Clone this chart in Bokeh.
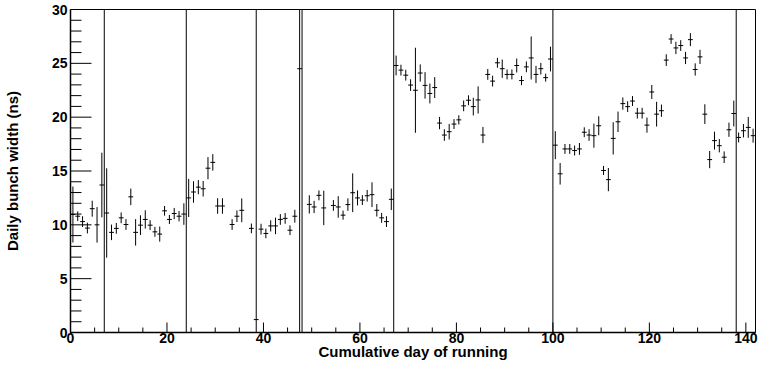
import math
from bokeh.plotting import figure
from bokeh.models import ColumnDataSource, Range1d, SingleIntervalTicker, Span
from bokeh.embed import file_html
from bokeh.resources import INLINE

# day index (bin), daily bunch width (ns), error (ns)
days = [0, 1, 2, 3, 4, 5, 6, 7, 8, 9, 10, 11, 12, 13, 14, 15, 16, 17, 18, 19,
        20, 21, 22, 23, 24, 25, 26, 27, 28, 29, 30, 31, 33, 34, 35, 37, 38, 39, 40, 41,
        42, 43, 44, 45, 46, 47, 49, 50, 51, 52, 54, 55, 56, 57, 58, 59, 60, 61, 62, 63,
        64, 65, 66, 67, 68, 69, 70, 71, 72, 73, 74, 75, 76, 77, 78, 79, 80, 81, 82, 83,
        84, 85, 86, 87, 88, 89, 90, 91, 92, 93, 94, 95, 96, 97, 98, 99, 100, 101, 102, 103,
        104, 105, 106, 107, 108, 109, 110, 111, 112, 113, 114, 115, 116, 117, 118, 119, 120, 121, 122, 123,
        124, 125, 126, 127, 128, 129, 130, 131, 132, 133, 134, 135, 136, 137, 138, 139, 140, 141]
widths = [10.96, 10.8, 10.3, 9.7, 11.5, 10.0, 13.7, 11.1, 9.3, 9.67, 10.65, 10.03, 12.6, 9.3, 9.97, 10.5, 9.97, 9.35, 9.14, 11.3,
          10.5, 11.05, 10.8, 11.0, 12.5, 13.05, 13.5, 13.35, 15.26, 15.8, 11.75, 11.75, 10.03, 10.8, 11.35, 9.67, 1.2, 9.6, 9.2, 9.9,
          9.9, 10.5, 10.6, 9.5, 10.8, 24.5, 11.9, 11.66, 12.74, 11.57, 11.8, 11.66, 10.9, 11.88, 12.98, 12.5, 12.3, 12.7, 12.8, 11.35,
          10.65, 10.3, 12.37, 24.8, 24.37, 23.9, 22.98, 22.5, 24.1, 22.95, 22.2, 22.75, 19.45, 18.34, 18.65, 19.36, 19.75, 21.05, 21.57, 20.98,
          21.6, 18.34, 23.97, 23.35, 25.05, 24.5, 23.97, 23.97, 24.8, 23.4, 24.67, 25.5, 23.97, 24.5, 23.67, 25.4, 17.4, 14.74, 17.05, 17.05,
          16.9, 17.05, 18.6, 18.34, 18.28, 19.2, 15.05, 14.2, 18.03, 19.57, 21.26, 20.98, 21.5, 20.37, 20.37, 19.26, 22.34, 20.28, 20.6, 25.3,
          27.26, 26.43, 26.65, 25.5, 27.2, 24.43, 25.6, 20.28, 16.06, 17.82, 17.35, 16.28, 18.83, 20.34, 18.12, 18.74, 19.05, 18.28]
errors = [2.6, 0.45, 0.5, 0.5, 0.74, 1.65, 3.0, 4.15, 0.72, 0.5, 0.5, 0.5, 0.77, 1.23, 0.92, 0.85, 0.46, 0.46, 0.7, 0.45,
          0.42, 0.52, 0.48, 1.0, 1.77, 1.0, 0.66, 0.72, 1.03, 0.77, 0.72, 0.72, 0.5, 0.54, 1.1, 0.45, 30.0, 0.5, 0.45, 0.52,
          0.77, 0.5, 0.5, 0.45, 0.6, 30.0, 0.85, 0.57, 0.46, 1.6, 0.5, 1.0, 0.42, 0.58, 1.8, 0.7, 0.46, 0.54, 1.15, 0.58,
          0.46, 0.5, 1.0, 0.92, 0.5, 0.5, 0.54, 3.95, 0.8, 1.23, 0.92, 0.97, 0.57, 0.54, 0.72, 0.46, 0.43, 0.5, 0.46, 0.82,
          1.26, 0.75, 0.5, 0.5, 0.46, 0.85, 0.46, 0.46, 0.65, 0.43, 0.5, 2.0, 0.8, 0.54, 0.37, 1.15, 1.3, 1.0, 0.46, 0.46,
          0.46, 0.55, 0.46, 0.54, 1.12, 0.88, 0.42, 1.08, 1.5, 0.95, 0.57, 0.5, 0.46, 0.5, 0.5, 0.7, 0.65, 1.15, 0.57, 0.54,
          0.45, 0.57, 0.5, 0.57, 0.6, 0.57, 0.66, 0.92, 0.8, 0.83, 0.62, 0.54, 0.66, 1.2, 0.46, 0.62, 0.97, 0.65]
boundaries = [7, 24, 48, 67, 100, 138]

x_max = 142
y_max = 30
x_major = 20
x_minor = 5
y_major = 5
y_minor = 1

xc = [d + 0.5 for d in days]
src = ColumnDataSource(dict(
    x=xc,
    y=widths,
    lo=[w - e for w, e in zip(widths, errors)],
    hi=[w + e for w, e in zip(widths, errors)],
    xl=[v - 0.5 for v in xc],
    xr=[v + 0.5 for v in xc],
))

p = figure(width=758, height=362, output_backend="svg", toolbar_location=None,
           x_range=Range1d(0, x_max), y_range=Range1d(0, y_max),
           min_border_left=64, min_border_right=3, min_border_top=9, min_border_bottom=30)
p.background_fill_color = "white"
p.border_fill_color = "white"
p.outline_line_color = "black"
p.outline_line_width = 1
p.xgrid.visible = False
p.ygrid.visible = False

p.segment("x", "lo", "x", "hi", source=src, line_color="black", line_width=1)
p.segment("xl", "y", "xr", "y", source=src, line_color="black", line_width=1)

for b in boundaries:
    p.add_layout(Span(location=b, dimension="height", line_color="black", line_width=1))

# inward ticks (ROOT style), drawn as screen-length rays from the axes
yt = list(range(0, y_max + 1, y_minor))
ytick = ColumnDataSource(dict(x=[0] * len(yt), y=yt,
                              L=[21 if v % y_major == 0 else 11 for v in yt]))
p.ray("x", "y", length="L", angle=0, length_units="screen", source=ytick,
      line_color="black", line_width=1)
xt = list(range(0, x_max + 1, x_minor))
xtick = ColumnDataSource(dict(x=xt, y=[0] * len(xt),
                              L=[10 if v % x_major == 0 else 5 for v in xt]))
p.ray("x", "y", length="L", angle=math.pi / 2, length_units="screen", source=xtick,
      line_color="black", line_width=1)

p.xaxis.ticker = SingleIntervalTicker(interval=x_major, num_minor_ticks=0)
p.yaxis.ticker = SingleIntervalTicker(interval=y_major, num_minor_ticks=0)

for ax in (p.xaxis[0], p.yaxis[0]):
    ax.axis_line_color = "black"
    ax.axis_line_width = 1.5
    ax.major_tick_line_color = None
    ax.minor_tick_line_color = None
    ax.major_tick_out = 0
    ax.minor_tick_out = 0
    ax.major_tick_in = 0
    ax.minor_tick_in = 0
    ax.major_label_text_font = "Liberation Sans"
    ax.major_label_text_font_style = "bold"
    ax.major_label_text_font_size = "14px"
    ax.major_label_text_color = "black"
    ax.axis_label_text_font = "Liberation Sans"
    ax.axis_label_text_font_style = "bold"
    ax.axis_label_text_font_size = "15px"
    ax.axis_label_text_color = "black"

p.xaxis.axis_label = "Cumulative day of running"
p.yaxis.axis_label = "Daily bunch width (ns)"
p.xaxis.major_label_standoff = 0
p.xaxis.axis_label_standoff = -3
p.yaxis.major_label_standoff = 3
p.yaxis.axis_label_standoff = 28

open("out.html", "w").write(file_html(p, INLINE))
